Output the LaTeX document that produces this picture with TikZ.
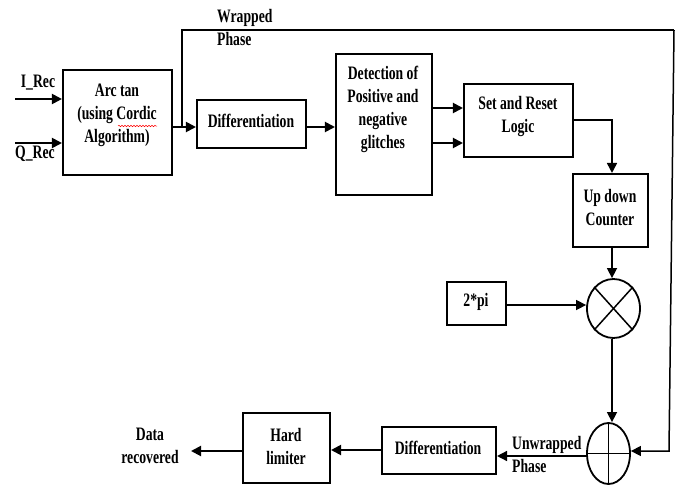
\documentclass[tikz,border=0pt]{standalone}
\usepackage{fontspec}
\setmainfont[FakeStretch=0.72]{Liberation Serif}
\usetikzlibrary{arrows.meta,shapes.geometric,decorations.pathmorphing,calc}
\begin{document}
\begin{tikzpicture}[x=1pt,y=-1pt,
  txt/.style={font=\fontsize{19}{23}\selectfont\bfseries, align=center, inner sep=0pt},
  lefttxt/.style={txt, align=left, anchor=west},
  blk/.style={draw, line width=2.1pt, inner sep=0pt},
  ell/.style={draw, ellipse, line width=1.8pt, inner sep=0pt},
  conn/.style={line width=2pt, -{Triangle[length=10pt,width=10pt]}},
  thin/.style={line width=1.5pt, -{Triangle[length=10pt,width=10pt]}},
  plain/.style={line width=1.5pt}
]
\useasboundingbox (0,0) rectangle (677,487);

% boxes
\node[blk, minimum width=109pt, minimum height=105pt] (arc) at (117.5,122.5) {};
\node[blk, minimum width=109pt, minimum height=48pt] (diff1) at (251.5,124) {};
\node[blk, minimum width=96pt, minimum height=141pt] (det) at (384,124.5) {};
\node[blk, minimum width=109pt, minimum height=73pt] (sr) at (518.5,120.5) {};
\node[blk, minimum width=75pt, minimum height=73pt] (udc) at (610.5,210.5) {};
\node[blk, minimum width=59pt, minimum height=43pt] (twopi) at (476.5,303.5) {};
\node[blk, minimum width=114pt, minimum height=47pt] (diff2) at (439,450.5) {};
\node[blk, minimum width=87pt, minimum height=70pt] (hard) at (286.5,448) {};

% summing / multiplying junctions
\node[ell, minimum width=53pt, minimum height=59pt] (mult) at (613.5,308.5) {};
\node[ell, minimum width=43pt, minimum height=61pt] (plus) at (608.5,453.5) {};
\draw[line width=1.5pt] (mult.north east) -- (mult.south west);
\draw[line width=1.5pt] (mult.north west) -- (mult.south east);
\draw[line width=1.5pt] (plus.north) -- (plus.south);
\draw[line width=1.5pt] (plus.west) -- (plus.east);

% texts
\node[txt] (tarc) at (117,115) {Arc tan\\(using Cordic\\Algorithm)};
\draw[red, line width=0.5pt, decorate, decoration={snake, amplitude=0.7pt, segment length=3pt}] (118,126) -- (157,126);
\node[txt] (tdiff1) at (251,121) {Differentiation};
\node[txt] (tdet) at (383,109.5) {Detection of\\Positive and\\negative\\glitches};
\node[txt] (tsr) at (518,116.5) {Set and Reset\\Logic};
\node[txt] (tudc) at (610,207.5) {Up down\\Counter};
\node[txt] (ttwopi) at (476,302) {2*pi};
\node[txt] (tdiff2) at (438,448) {Differentiation};
\node[txt] (thard) at (286,446) {Hard\\limiter};
\node[txt] (tdata) at (150,445.5) {Data\\recovered};
\node[txt] (tirec) at (38,83) {I\_Rec};
\node[txt] (tqrec) at (35,154) {Q\_Rec};
\node[lefttxt] (twrap) at (217,28) {Wrapped\\Phase};
\node[lefttxt] (tunwrap) at (512,454) {Unwrapped\\Phase};

% inputs
\coordinate (iin) at (15,99);
\coordinate (qin) at (15,143);
\draw[conn] (iin) -- (iin -| arc.west);
\draw[conn] (qin) -- (qin -| arc.west);

% main chain
\coordinate (aout) at (arc.east |- 0,127);
\coordinate (br) at (182,127);
\draw[conn] (aout) -- (aout -| diff1.west);
\coordinate (dout) at (diff1.east |- 0,127);
\draw[conn] (dout) -- (dout -| det.west);
\coordinate (g1) at (det.east |- 0,108);
\coordinate (g2) at (det.east |- 0,143);
\draw[conn] (g1) -- (g1 -| sr.west);
\draw[conn] (g2) -- (g2 -| sr.west);
\coordinate (srout) at (sr.east |- 0,120);
\draw[conn, line width=1.7pt] (srout) -- (612,120) -- (612,0 |- udc.north);
\draw[thin] (udc.south -| 612,0) -- (612,0 |- mult.north);
\coordinate (pin) at (twopi.east |- 0,305);
\draw[thin] (pin) -- (pin -| mult.west);
\draw[thin] (mult.south -| 612,0) -- (612,0 |- plus.north);

% wrapped phase feedback
\coordinate (tr) at (674,30);
\coordinate (brc) at (669,451);
\draw[line width=2pt] (br) -- (182,30) -- (tr);
\draw[thin] (tr) -- (brc) -- (brc -| plus.east);

% output chain
\coordinate (pout) at (plus.west |- 0,456);
\draw[thin] (pout) -- (pout -| diff2.east);
\coordinate (d2out) at (diff2.west |- 0,450);
\draw[conn] (d2out) -- (d2out -| hard.east);
\coordinate (dataend) at (191,451);
\draw[conn] (hard.west |- dataend) -- (dataend);
\end{tikzpicture}
\end{document}
